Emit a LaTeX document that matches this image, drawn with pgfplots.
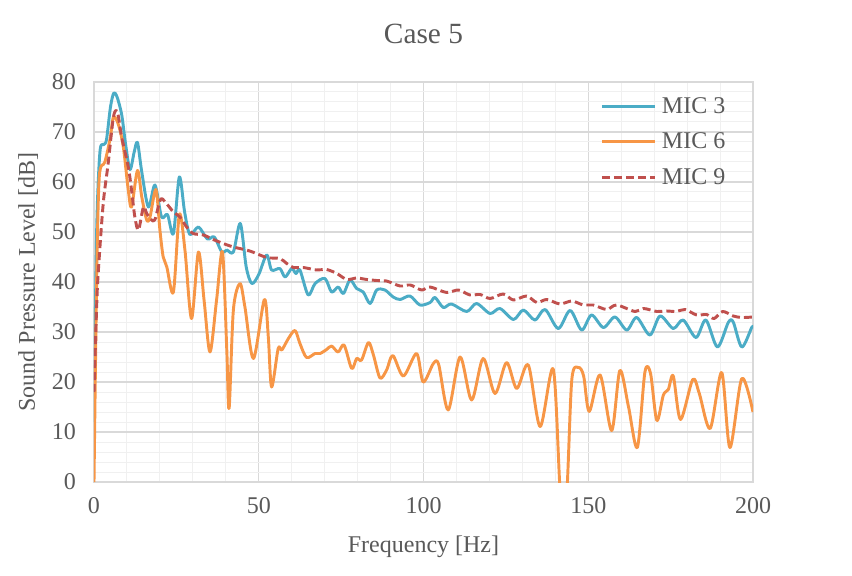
\documentclass[border=0pt]{standalone}
\usepackage{fontspec}
\setmainfont{Liberation Serif}
\usepackage{pgfplots}
\pgfplotsset{compat=1.18}
\definecolor{mic3}{HTML}{4BACC6}
\definecolor{mic6}{HTML}{F79646}
\definecolor{mic9}{HTML}{C0504D}
\definecolor{txt}{HTML}{595959}
\definecolor{majgrid}{HTML}{D9D9D9}
\definecolor{mingrid}{HTML}{F0F0F0}
\begin{document}
\begin{tikzpicture}
\begin{axis}[
 scale only axis, width=494.25pt, height=300pt,
 at={(0pt,0pt)}, anchor=south west,
 xmin=0, xmax=200, ymin=0, ymax=80,
 xtick={0,50,...,200}, ytick={0,10,...,80},
 minor x tick num=4, minor y tick num=4,
 grid=both,
 major grid style={draw=majgrid, line width=1pt},
 minor grid style={draw=mingrid, line width=0.75pt},
 major tick length=0pt, minor tick length=0pt,
 axis line style={draw=majgrid, line width=1pt},
 /pgf/number format/assume math mode=true,
 tick label style={font=\fontsize{18}{20}\selectfont, text=txt},
 yticklabel style={xshift=-10pt},
 xticklabel style={yshift=-8pt},
 title={Case 5},
 title style={at={(axis description cs:0.5,1.10)}, anchor=center, font=\fontsize{22}{24}\selectfont, text=txt},
 xlabel={Frequency [Hz]},
 ylabel={Sound Pressure Level [dB]},
 every axis x label/.style={at={(axis description cs:0.5,-0.1625)}, anchor=center, font=\fontsize{18}{20}\selectfont, text=txt},
 every axis y label/.style={at={(axis description cs:-0.100,0.5)}, anchor=center, rotate=90, font=\fontsize{18}{20}\selectfont, text=txt},
 legend style={at={(axis description cs:0.768,0.968)}, anchor=north west, draw=none, fill=none,
   font=\fontsize{18}{20}\selectfont, text=txt, row sep=9pt, inner sep=0pt,
   /tikz/every odd column/.append style={column sep=2pt}},
 legend cell align=left,
 legend image code/.code={\draw[#1] (0pt,0pt) -- (40pt,0pt);},
 every axis plot/.append style={line width=2.2pt, line join=round},
]
\addplot[mic3, smooth] coordinates {
(0,12) (0.8,50) (1.8,66) (3,67.5) (3.8,68.5) (5,75) (6,77.8) (7,77) (8.4,73.5) (9.5,68)
(10.9,62.5) (12.2,66) (13.2,67.9) (14.5,62) (16.5,55) (18.5,59.4) (20.5,53) (22.3,53.5)
(24.1,49.7) (25.9,61) (27.5,54) (29.1,49.5) (31.7,51) (34.4,48.6) (36.5,49) (38.8,46) (40.3,46.4)
(42.3,46) (44.4,51.7) (46.2,43) (47.9,39.7) (50,41.5) (52.4,45.4) (53.9,42.4) (56.4,42.7)
(58,41) (60,42.7) (61.3,41.7) (62.5,42.4) (65,37.4) (67.1,39.7) (70.1,40.7) (72.1,38)
(74.1,39) (75.7,37.7) (77.7,40.4) (79.7,38.7) (81.7,38) (83.8,35.7) (85.8,38.4) (88.3,38.4)
(90.8,37) (92.9,36.5) (95.9,37.2) (98.9,35.4) (102,35.9) (103.5,36.9) (106,34.9) (108.5,35.6)
(113.1,34.1) (116.1,35.7) (120.2,33.7) (123.2,34.7) (127.3,32.5) (130.3,34.4) (133.8,32.4)
(136.9,34.5) (140.9,30.7) (144.5,34.3) (148,30.4) (151,33.4) (154.6,30.9) (158.1,33)
(161.7,30.4) (164.7,32.9) (168.7,29.4) (171.8,33.2) (175.8,30.7) (178.8,32.4) (182.7,28.9)
(185.7,32.4) (189.2,27) (192.5,31.9) (194,32) (196.6,27) (199.6,30.9) (200,31)
};
\addlegendentry{MIC 3}
\addplot[mic6, smooth] coordinates {
(0,0) (0.8,40) (1.6,61) (3.3,64) (4.9,68.7) (5.9,73) (7.4,71.5) (8.9,67) (10.4,58.4) (11.4,55)
(13.2,62.3) (14.5,57) (16,52.4) (17,53) (18.8,58.5) (20,50.4) (21,45) (22.1,43) (24.1,38)
(25.9,53.5) (27.6,46.4) (29.6,32.7) (31.7,46) (33.4,36.4) (35.2,26) (37.2,36.4) (39,46)
(40.3,26.4) (41,14.7) (42.3,34.4) (44.3,39.7) (45.8,35) (48.4,24.7) (51.7,36.5) (52.9,29)
(53.9,19) (55.9,26.7) (57,26.4) (59,28.7) (61,30.3) (62.5,27.7) (64.5,24.9) (67.1,25.7)
(68.6,25.7) (70.6,26.5) (72.1,27.2) (74.1,26) (75.9,27.4) (78.2,22.7) (79.7,24.7) (81.2,24.4)
(83.3,27.9) (84.8,25.4) (86.8,20.8) (88.8,22.4) (90.7,25.3) (93.9,21.2) (97.9,25.7) (99.9,20)
(103,23.7) (104.6,23.5) (107.5,14.4) (111.1,25) (114.6,16.4) (118.1,24.7) (121.7,17.7)
(125.2,23.9) (128.3,18.7) (131.8,23.4) (135.4,11.1) (139.4,22.5) (141.6,-3) (143.4,-3)
(145,20.4) (147,22.9) (148.6,21.2) (150.3,14.1) (153.6,21.4) (157.1,10.3) (159.6,22.3)
(162.2,15.1) (164.9,6.9) (167.2,22) (168.9,21.7) (170.8,12.3) (172.8,17.4) (174.3,18.5)
(175.8,21.2) (178,12.5) (181.7,20.5) (183.7,17.7) (187,10.7) (190.5,21.9) (193,6.9)
(196.6,20.7) (200,14)
};
\addlegendentry{MIC 6}
\addplot[mic9, smooth, dash pattern=on 6pt off 3pt] coordinates {
(0,18) (0.8,35) (1.3,42) (2.8,55.7) (4.3,63.7) (5.9,73) (7.1,74) (8.4,69) (10.4,63) (11.4,58.4)
(12.4,53) (13.5,50.4) (15,55) (16,53.7) (17.5,52.4) (18.5,52.5) (20.2,56.5) (21.6,56)
(24.1,54) (26.1,53) (28.1,51) (30.1,49.7) (33.2,49.4) (36.2,48.5) (39.2,47.7) (42.3,47)
(47.3,46.2) (52.4,44.9) (56.4,44.7) (58.5,43.7) (60.5,42.9) (63.5,42.9) (67.6,42.4)
(70.6,42.5) (73.7,41.7) (76.7,40.5) (79.7,40.8) (82.8,40.5) (85.8,40.3) (88.8,40.2)
(92.9,39.2) (96,39.4) (99.4,38.4) (102,39) (107,37.9) (110.6,38.4) (114.1,37.4) (117.2,37.5)
(120.2,36.7) (124.2,37.6) (127.3,36.4) (131.3,37.2) (134.4,35.9) (137.4,36.5) (141.4,35.6)
(145,36.2) (148.5,35.4) (151.5,35.4) (155.6,34.5) (158.6,35.4) (164.2,34.1) (166.8,34.7)
(170.8,34.1) (173.8,34.2) (176.8,34.1) (179.4,34.5) (182.9,33.4) (185.9,33.5) (188.2,32.7)
(190.8,34.1) (194,33.2) (196.6,32.9) (200,33)
};
\addlegendentry{MIC 9}
\end{axis}
\pgfresetboundingbox
\path (-70.5pt,-69.75pt) rectangle (568.5pt,361.5pt);
\end{tikzpicture}
\end{document}
